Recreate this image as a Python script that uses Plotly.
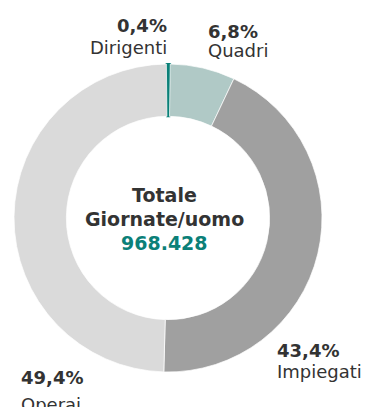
import plotly.graph_objects as go

# Distribuzione delle giornate/uomo per categoria professionale
categorie = ["Dirigenti", "Quadri", "Impiegati", "Operai"]
percentuali = [0.4, 6.8, 43.4, 49.4]
colori = ["#0b8078", "#b0c9c6", "#a0a0a0", "#dadada"]
totale_giornate = 968428

W, H = 366, 407
cx, cy, r = 168, 218, 154  # centro e raggio della ciambella (px)

def fmt_pct(v):
    return f"{v:.1f}".replace(".", ",") + "%"

def fmt_int(v):
    return f"{v:,}".replace(",", ".")

# la fetta più piccola ha un bordo del suo stesso colore per restare leggibile
bordi_col = [colori[0], "white", "white", "white"]
bordi_w = [2, 0.7, 0.7, 0.7]

fig = go.Figure(
    go.Pie(
        labels=categorie,
        values=percentuali,
        marker=dict(colors=colori, line=dict(color=bordi_col, width=bordi_w)),
        hole=0.66,
        sort=False,
        direction="clockwise",
        rotation=-0.6,
        textinfo="none",
        hoverinfo="label+percent",
        domain=dict(
            x=[(cx - r) / W, (cx + r) / W],
            y=[(H - cy - r) / H, (H - cy + r) / H],
        ),
        showlegend=False,
    )
)

FONT = "DejaVu Sans"
TXT = "#333333"

def px(x, y):
    return x / W, 1 - y / H

# posizione etichette: (x, y pct, y nome, ancoraggio)
pos = {
    "Dirigenti": (169, 25, 48, "right"),
    "Quadri": (206, 32, 50, "left"),
    "Impiegati": (275, 350, 371, "left"),
    "Operai": (19, 377, 404, "left"),
}

annotations = []
for cat, pct in zip(categorie, percentuali):
    x, y1, y2, anc = pos[cat]
    ax, ay1 = px(x, y1)
    _, ay2 = px(x, y2)
    annotations.append(dict(
        x=ax, y=ay1, xref="paper", yref="paper", xanchor=anc, yanchor="middle",
        text=f"<b>{fmt_pct(pct)}</b>", showarrow=False,
        font=dict(family=FONT, size=18, color=TXT),
    ))
    annotations.append(dict(
        x=ax, y=ay2, xref="paper", yref="paper", xanchor=anc, yanchor="middle",
        text=cat, showarrow=False,
        font=dict(family=FONT, size=18, color=TXT),
    ))

# testo centrale
for text, y, col in [
    ("<b>Totale</b>", 195, TXT),
    ("<b>Giornate/uomo</b>", 219, TXT),
    (f"<b>{fmt_int(totale_giornate)}</b>", 243, colori[0]),
]:
    ax, ay = px(164, y)
    annotations.append(dict(
        x=ax, y=ay, xref="paper", yref="paper", xanchor="center", yanchor="middle",
        text=text, showarrow=False,
        font=dict(family=FONT, size=19, color=col),
    ))

fig.update_layout(
    width=W, height=H,
    margin=dict(l=0, r=0, t=0, b=0),
    paper_bgcolor="white",
    plot_bgcolor="white",
    annotations=annotations,
)

fig.write_html("out.html")
